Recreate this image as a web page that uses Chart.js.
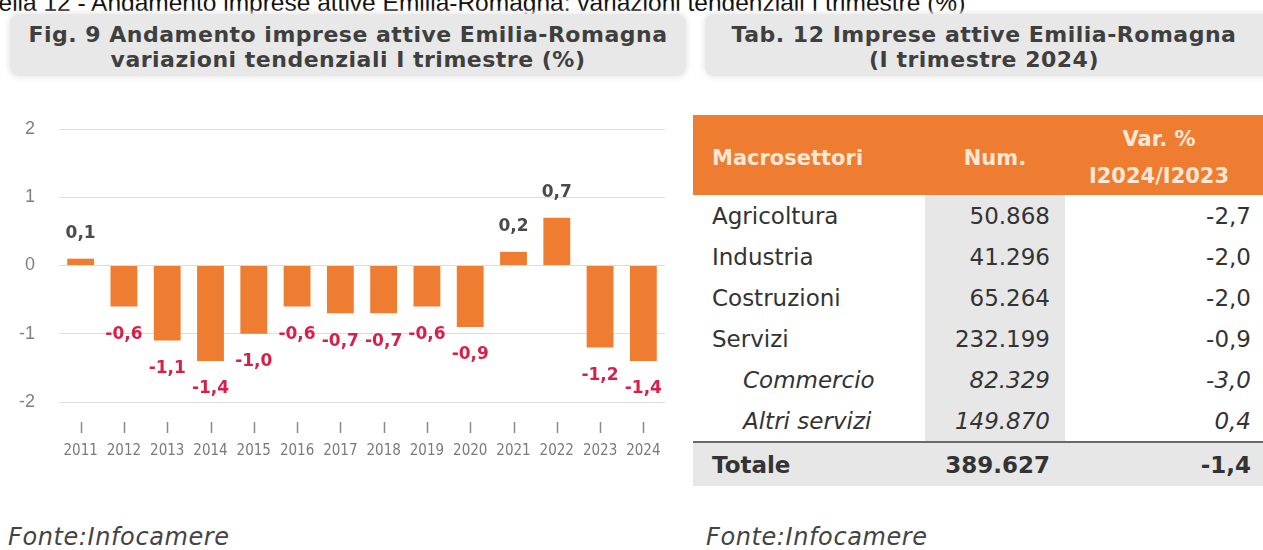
<!DOCTYPE html>
<html>
<head>
<meta charset="utf-8">
<script src="https://cdn.jsdelivr.net/npm/chart.js@4.4.1/dist/chart.umd.min.js"></script>
<style>
  body { margin: 0; width: 1263px; height: 550px; background: #fff; position: relative; overflow: hidden; font-family: "DejaVu Sans", sans-serif; }
  .caption { position: absolute; left: -41px; top: -11px; font: 24.5px "Liberation Sans", Arial, sans-serif; color: #111; white-space: nowrap; line-height: 28px; }
  .titlebox { position: absolute; top: 14px; height: 62px; background: #e8e8e8; border-radius: 9px; box-shadow: 0 0 5px 2px #ececec;
    color: #3f3f3f; font-weight: bold; font-size: 22px; letter-spacing: 0.5px; line-height: 25px; text-align: center; box-sizing: border-box; padding-top: 8px; }
  #chartWrap { position: absolute; left: 0; top: 110px; width: 690px; height: 370px; }
  table { position: absolute; left: 693px; top: 115px; border-collapse: collapse; table-layout: fixed; width: 570px; color: #333; font-size: 23px; }
  th { background: #ee7d31; color: #fde7d6; font-weight: bold; font-size: 21px; height: 71px; padding: 6px 0 0 0; line-height: 24px; }
  td { height: 41px; padding: 0; line-height: 26px; }
  td.name { padding-left: 19px; }
  td.sub { padding-left: 50px; font-style: italic; }
  td.num { background: #e7e7e7; text-align: right; padding-right: 15px; }
  td.var { text-align: right; padding-right: 12px; }
  tr.total td { background: #e7e7e7; font-weight: bold; height: 43px; border-top: 2px solid #6a6a6a; }
  .fonte { position: absolute; top: 523px; font-style: italic; font-size: 24px; letter-spacing: 0.6px; color: #444; line-height: 28px; }
</style>
</head>
<body>
<div class="caption">Tabella 12 - Andamento imprese attive Emilia-Romagna: variazioni tendenziali I trimestre (%)</div>
<div class="titlebox" style="left:10px;width:676px;">Fig. 9 Andamento imprese attive Emilia-Romagna<br>variazioni tendenziali I trimestre (%)</div>
<div class="titlebox" style="left:705px;width:570px;padding-right:12px;">Tab. 12 Imprese attive Emilia-Romagna<br>(I trimestre 2024)</div>

<div id="chartWrap"><canvas id="barChart"></canvas></div>

<table id="sectorTable">
  <colgroup><col style="width:232px"><col style="width:140px"><col style="width:198px"></colgroup>
  <thead><tr>
    <th style="text-align:left;padding-left:19px;">Macrosettori</th>
    <th>Num.</th>
    <th style="line-height:37px;padding-right:10px;">Var. %<br>I2024/I2023</th>
  </tr></thead>
  <tbody id="tableBody"></tbody>
</table>

<div class="fonte" style="left:8px;">Fonte:Infocamere</div>
<div class="fonte" style="left:706px;">Fonte:Infocamere</div>

<script>
// chart data
const years = ['2011', '2012', '2013', '2014', '2015', '2016', '2017', '2018', '2019', '2020', '2021', '2022', '2023', '2024'];
const changes = [0.1, -0.6, -1.1, -1.4, -1.0, -0.6, -0.7, -0.7, -0.6, -0.9, 0.2, 0.7, -1.2, -1.4];
const yMin = -2, yMax = 2;

// table data
const sectors = ['Agricoltura', 'Industria', 'Costruzioni', 'Servizi', 'Commercio', 'Altri servizi'];
const subSector = [false, false, false, false, true, true];
const firms = ['50.868', '41.296', '65.264', '232.199', '82.329', '149.870'];
const varPct = ['-2,7', '-2,0', '-2,0', '-0,9', '-3,0', '0,4'];
const totalRow = ['Totale', '389.627', '-1,4'];

function fmt(v) { return v.toFixed(1).replace('.', ','); }

// Table
const tBody = document.getElementById('tableBody');
sectors.forEach((s, i) => {
  const tr = document.createElement('tr');
  const it = subSector[i] ? ' style="font-style:italic"' : '';
  tr.innerHTML = `
    <td class="${subSector[i] ? 'sub' : 'name'}">${s}</td>
    <td class="num"${it}>${firms[i]}</td>
    <td class="var"${it}>${varPct[i]}</td>`;
  tBody.appendChild(tr);
});
const trTot = document.createElement('tr');
trTot.className = 'total';
trTot.innerHTML = `<td class="name">${totalRow[0]}</td><td class="num">${totalRow[1]}</td><td class="var">${totalRow[2]}</td>`;
tBody.appendChild(trTot);

// value labels above / below the bars
const valueLabels = {
  id: 'valueLabels',
  afterDatasetsDraw(chart) {
    const ctx = chart.ctx;
    const meta = chart.getDatasetMeta(0);
    ctx.save();
    ctx.font = 'bold 17px "DejaVu Sans", sans-serif';
    ctx.textAlign = 'center';
    ctx.textBaseline = 'middle';
    meta.data.forEach((bar, i) => {
      const v = changes[i];
      if (v >= 0) {
        ctx.fillStyle = '#4a4a4a';
        ctx.fillText(fmt(v), bar.x, bar.y - 25);
      } else {
        ctx.fillStyle = '#d81f47';
        ctx.fillText(fmt(v), bar.x, bar.y + 28);
      }
    });
    ctx.restore();
  }
};

// little tick marks under the plot, detached from the axis
const tickMarks = {
  id: 'tickMarks',
  afterDraw(chart) {
    const ctx = chart.ctx;
    const xs = chart.scales.x;
    const top = chart.chartArea.bottom + 20;
    ctx.save();
    ctx.strokeStyle = '#8a8a8a';
    ctx.lineWidth = 1.5;
    years.forEach((y, i) => {
      const x = Math.round(xs.getPixelForValue(i)) + 0.5;
      ctx.beginPath();
      ctx.moveTo(x, top);
      ctx.lineTo(x, top + 11);
      ctx.stroke();
    });
    ctx.restore();
  }
};

new Chart(document.getElementById('barChart'), {
  type: 'bar',
  data: {
    labels: years,
    datasets: [{
      data: changes,
      backgroundColor: '#ee7d31',
      borderWidth: 0,
      categoryPercentage: 1,
      barPercentage: 0.62
    }]
  },
  options: {
    responsive: true,
    maintainAspectRatio: false,
    animation: false,
    layout: { padding: { top: 19, right: 25, left: 0, bottom: 0 } },
    plugins: { legend: { display: false }, tooltip: { enabled: false } },
    scales: {
      x: {
        // invisible tick length only pushes the labels down
        grid: { display: false, drawTicks: true, tickLength: 36 },
        border: { display: false },
        ticks: {
          color: '#7a7a7a', padding: 4, maxRotation: 0, autoSkip: false,
          font: { family: '"DejaVu Sans Condensed", "Liberation Sans Narrow", sans-serif', size: 15 }
        },
        afterFit(scale) { scale.height = 78; }
      },
      y: {
        min: yMin, max: yMax,
        grid: { color: '#dcdcdc', lineWidth: 1, drawTicks: true, tickLength: 20, tickColor: 'rgba(0,0,0,0)' },
        border: { display: false },
        ticks: {
          stepSize: 1, color: '#808080', padding: 4,
          font: { family: '"Liberation Sans", sans-serif', size: 18 }
        },
        afterFit(scale) { scale.width = 59; }
      }
    }
  },
  plugins: [valueLabels, tickMarks]
});
</script>
</body>
</html>
